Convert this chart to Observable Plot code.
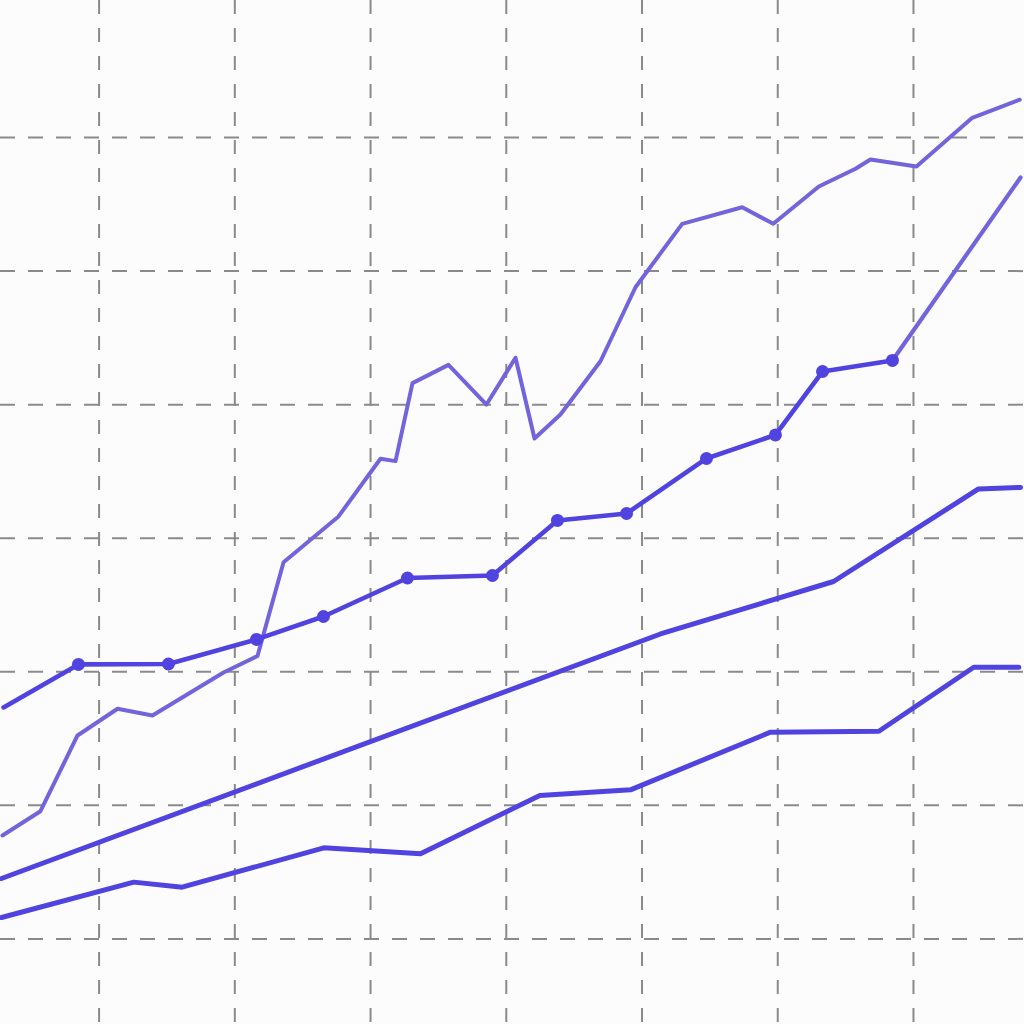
<!DOCTYPE html>
<html>
<head>
<meta charset="utf-8">
<script src="https://cdn.jsdelivr.net/npm/d3@7"></script>
<script src="https://cdn.jsdelivr.net/npm/@observablehq/plot@0.6"></script>
<style>
  html, body { margin: 0; padding: 0; background: #fdfcfd; overflow: hidden; }
  #chart svg { display: block; }
</style>
</head>
<body>
<div id="chart"></div>
<script>
// Grid tick values
const xTicks = [1, 2, 3, 4, 5, 6, 7];
const yTicks = [0, 10, 20, 30, 40, 50, 60];

// Series A: marked line (dots), then a lighter projected segment
const aX = [0.296, 0.848, 1.511, 2.160, 2.653, 3.272, 3.898, 4.377, 4.886, 5.475, 5.983, 6.330, 6.845];
const aY = [17.33, 20.55, 20.58, 22.42, 24.14, 27.02, 27.21, 31.33, 31.85, 35.97, 37.73, 42.48, 43.31];
const aProjX = [6.845, 7.789];
const aProjY = [43.31, 57.01];

// Series B: jagged lighter line
const bX = [0.288, 0.568, 0.841, 1.136, 1.393, 1.917, 2.167, 2.359, 2.764, 3.073, 3.184, 3.309, 3.574, 3.854,
            4.068, 4.208, 4.399, 4.694, 4.952, 5.296, 5.738, 5.967, 6.303, 6.573, 6.683, 7.022, 7.433, 7.783];
const bY = [7.74, 9.56, 15.23, 17.23, 16.73, 19.95, 21.18, 28.20, 31.63, 35.95, 35.77, 41.61, 42.98, 40.01,
            43.51, 37.47, 39.26, 43.25, 48.79, 53.54, 54.78, 53.54, 56.33, 57.66, 58.36, 57.83, 61.48, 62.83];

// Series C: smooth rising line
const cX = [0.281, 5.136, 6.411, 7.479, 7.789];
const cY = [4.52, 22.83, 26.76, 33.69, 33.80];

// Series D: bottom stepped line
const dX = [0.281, 1.256, 1.612, 2.656, 3.368, 4.247, 4.915, 5.947, 6.745, 7.444, 7.776];
const dY = [1.60, 4.25, 3.87, 6.82, 6.37, 10.74, 11.16, 15.48, 15.55, 20.34, 20.34];

const zip = (xs, ys) => xs.map((x, i) => ({x, y: ys[i]}));
const A = zip(aX, aY), AP = zip(aProjX, aProjY), B = zip(bX, bY), C = zip(cX, cY), D = zip(dX, dY);

const dark = "#5043e0";
const light = "#7264da";

const chart = Plot.plot({
  width: 1024,
  height: 1024,
  margin: 0,
  style: {background: "#fdfcfd"},
  x: {domain: [0.2736, 7.818], axis: null},
  y: {domain: [-6.41, 70.26], axis: null},
  marks: [
    Plot.ruleX(xTicks, {stroke: "#8a8a8a", strokeWidth: 2, strokeDasharray: "14,14"}),
    Plot.ruleY(yTicks, {stroke: "#8a8a8a", strokeWidth: 2, strokeDasharray: "15,13"}),
    Plot.line(D, {x: "x", y: "y", stroke: dark, strokeWidth: 5}),
    Plot.line(C, {x: "x", y: "y", stroke: dark, strokeWidth: 5}),
    Plot.line(B, {x: "x", y: "y", stroke: light, strokeWidth: 4}),
    Plot.line(AP, {x: "x", y: "y", stroke: light, strokeWidth: 4.2}),
    Plot.line(A, {x: "x", y: "y", stroke: dark, strokeWidth: 4.6}),
    Plot.dot(A.slice(1), {x: "x", y: "y", r: 6.5, fill: dark, stroke: "none"})
  ]
});
document.getElementById("chart").appendChild(chart);
</script>
</body>
</html>
